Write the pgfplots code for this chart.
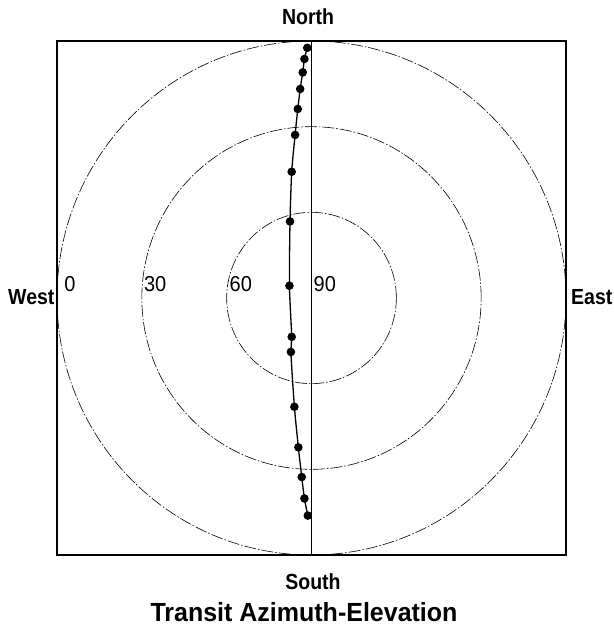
\documentclass[border=0pt]{standalone}
\usepackage{pgfplots}
\pgfplotsset{compat=1.18}
\usepackage{fontspec}
\setmainfont{Liberation Sans}
\begin{document}
\begin{tikzpicture}[x=1pt,y=1pt]
\useasboundingbox (0,0) rectangle (613,631);
\begin{axis}[at={(57pt,76pt)}, anchor=south west, scale only axis,
  width=509pt, height=514pt,
  xmin=-90, xmax=90, ymin=-90, ymax=90,
  axis line style={line width=1.8pt},
  ticks=none, clip=false]
\foreach \r in {30,60,90}{
  \edef\temp{\noexpand\draw[line width=0.6pt, dash pattern=on 12pt off 2pt on 1.5pt off 2pt] (axis cs:0,0) ellipse [x radius=\r, y radius=\r];}
  \temp
}
\draw[line width=0.8pt] (axis cs:0,-90) -- (axis cs:0,90);
\addplot[black, line width=1.3pt, smooth, tension=0.4, mark=*, mark size=3.6pt] coordinates {
(-1.5,87.6) (-2.5,83.7) (-3.1,79.0) (-4.0,73.2) (-4.85,66.2) (-5.8,57.1)
(-7.0,44.2) (-7.6,26.8) (-7.8,4.3) (-7.0,-13.6) (-7.3,-18.9) (-6.05,-38.1)
(-4.65,-52.3) (-3.45,-62.7) (-2.5,-70.2) (-1.3,-76.2)
};
\node[anchor=west, inner sep=0, yscale=1.08, font=\fontsize{20}{24}\selectfont] at (axis cs:-87.5,4.9) {0};
\node[anchor=west, inner sep=0, yscale=1.08, font=\fontsize{20}{24}\selectfont] at (axis cs:-59.3,4.9) {30};
\node[anchor=west, inner sep=0, yscale=1.08, font=\fontsize{20}{24}\selectfont] at (axis cs:-29.0,4.9) {60};
\node[anchor=west, inner sep=0, yscale=1.08, font=\fontsize{20}{24}\selectfont] at (axis cs:0.7,4.9) {90};
\end{axis}
\node[anchor=base, inner sep=0, yscale=1.12, font=\fontsize{19.5}{24}\bfseries] at (308,606) {North};
\node[anchor=base, inner sep=0, yscale=1.12, font=\fontsize{19.5}{24}\bfseries] at (313,41) {South};
\node[anchor=base west, inner sep=0, yscale=1.12, font=\fontsize{19.5}{24}\bfseries] at (8,326) {West};
\node[anchor=base west, inner sep=0, yscale=1.12, font=\fontsize{19.5}{24}\bfseries] at (571,326) {East};
\node[anchor=base, inner sep=0, yscale=1.05, font=\fontsize{25}{30}\bfseries] at (304,9) {Transit Azimuth-Elevation};
\end{tikzpicture}
\end{document}
